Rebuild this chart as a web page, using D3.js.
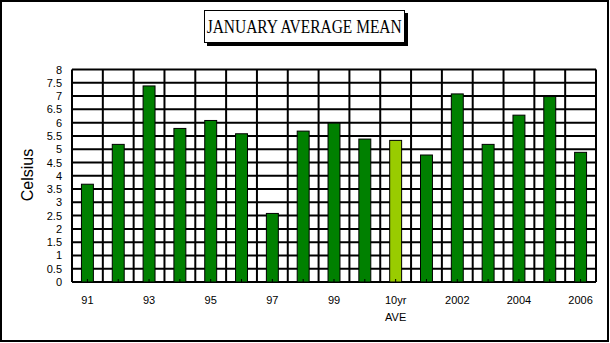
<!DOCTYPE html>
<html><head><meta charset="utf-8">
<script src="https://cdn.jsdelivr.net/npm/d3@7"></script>
<style>html,body{margin:0;padding:0;background:#fff;}svg{display:block;}</style>
</head><body>
<script>
const categories = ["91","92","93","94","95","96","97","98","99","2000","10yr AVE","2001","2002","2003","2004","2005","2006"];
const values = [3.7,5.2,7.4,5.8,6.1,5.6,2.6,5.7,6.0,5.4,5.35,4.8,7.1,5.2,6.3,7.0,4.9];
const xLabels = ["91","","93","","95","","97","","99","","10yr AVE","","2002","","2004","","2006"];
const yTicks = [0,0.5,1,1.5,2,2.5,3,3.5,4,4.5,5,5.5,6,6.5,7,7.5,8];
const title = "JANUARY AVERAGE MEAN";
const yTitle = "Celsius";

(function(){
const W = 610, H = 343;
const svg = d3.select("body").append("svg").attr("width", W).attr("height", H);
svg.append("rect").attr("x",1).attr("y",1).attr("width",W-3).attr("height",H-3)
  .attr("fill","#fff").attr("stroke","#000").attr("stroke-width",2);

const pL = 72, pR = 596, pT = 69.5, pB = 282;
const x = d3.scaleBand().domain(categories).range([pL,pR]).paddingInner(0.58).paddingOuter(0.29);
const y = d3.scaleLinear().domain([0,8]).range([pB,pT]);
const step = x.step();

// grid
const g = svg.append("g");
g.selectAll("line.h").data(yTicks).join("line").attr("class","h")
  .attr("x1",pL).attr("x2",pR).attr("y1",d=>y(d)).attr("y2",d=>y(d))
  .attr("stroke","#000").attr("stroke-width",2);
const bounds = categories.map(c => x(c) - x.paddingInner()*step/2);
bounds.push(pR);
g.selectAll("line.v").data(bounds).join("line").attr("class","v")
  .attr("x1",d=>d).attr("x2",d=>d).attr("y1",pT).attr("y2",pB)
  .attr("stroke","#000").attr("stroke-width",2);

// bars
svg.append("g").selectAll("rect").data(values).join("rect")
  .attr("x",(d,i)=>x(categories[i])+0.5)
  .attr("y",d=>y(d)+0.5)
  .attr("width",x.bandwidth()-1)
  .attr("height",d=>pB-y(d)-0.5)
  .attr("fill",(d,i)=>categories[i]==="10yr AVE"?"#99cc00":"#008000")
  .attr("stroke","#000").attr("stroke-width",1);

// x axis
const xa = svg.append("g").attr("transform",`translate(0,${pB})`)
  .call(d3.axisBottom(x).tickSize(-3).tickFormat(""));
xa.select(".domain").remove();
xa.selectAll(".tick line").attr("stroke","#000");
svg.append("g").selectAll("text").data(categories).join("text")
  .attr("x",d=>x(d)+x.bandwidth()/2)
  .attr("y",304)
  .attr("text-anchor","middle")
  .attr("font-family","Arial, 'Liberation Sans', sans-serif")
  .attr("font-size",11)
  .each(function(d,i){
    const lab = xLabels[i];
    if(!lab) return;
    const parts = lab.split(" ");
    const t = d3.select(this);
    parts.forEach((p,k)=>{
      t.append("tspan").attr("x",x(d)+x.bandwidth()/2).attr("dy",k===0?0:16.5).text(p);
    });
  });

// y axis labels
const ya = svg.append("g").attr("transform",`translate(${pL},0)`)
  .call(d3.axisLeft(y).tickValues(yTicks).tickSize(0).tickPadding(10).tickFormat(d=>String(d)));
ya.select(".domain").remove();
ya.selectAll("text").attr("font-family","Arial, 'Liberation Sans', sans-serif").attr("font-size",11).attr("fill","#000");

svg.append("text").attr("transform","translate(33,175) rotate(-90)")
  .attr("text-anchor","middle")
  .attr("font-family","Arial, 'Liberation Sans', sans-serif")
  .attr("font-size",16).text(yTitle);

// title box
svg.append("rect").attr("x",207).attr("y",13).attr("width",201).attr("height",33).attr("fill","#000");
svg.append("rect").attr("x",204.5).attr("y",10.5).attr("width",200).attr("height",32)
  .attr("fill","#fff").attr("stroke","#000").attr("stroke-width",1);
svg.append("text").attr("x",304.2).attr("y",32.5).attr("text-anchor","middle")
  .attr("font-family","'Liberation Serif','Times New Roman',serif")
  .attr("font-size",19).attr("textLength",195).attr("lengthAdjust","spacingAndGlyphs")
  .text(title);
})();
</script>
</body></html>
